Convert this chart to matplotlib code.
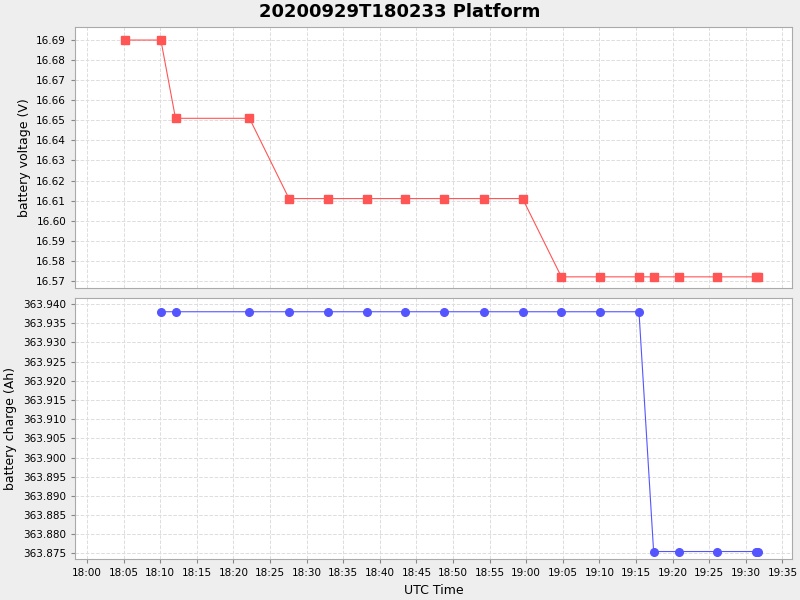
import matplotlib
matplotlib.use("Agg")
import matplotlib.pyplot as plt
import matplotlib.dates as mdates
from matplotlib.ticker import MultipleLocator, FormatStrFormatter
from datetime import datetime, timedelta

BASE = datetime(2020, 9, 29, 18, 0)

# minutes after 18:00
volt_min = [5.2, 10.1, 12.1, 22.2, 27.6, 32.9, 38.2, 43.5, 48.8, 54.2, 59.5,
            64.8, 70.1, 75.4, 77.4, 80.8, 86.1, 91.4, 91.7]
volt_val = [16.690, 16.690, 16.651, 16.651, 16.611, 16.611, 16.611, 16.611,
            16.611, 16.611, 16.611, 16.572, 16.572, 16.572, 16.572, 16.572,
            16.572, 16.572, 16.572]
chg_min = [10.1, 12.1, 22.2, 27.6, 32.9, 38.2, 43.5, 48.8, 54.2, 59.5, 64.8,
           70.1, 75.4, 77.4, 80.8, 86.1, 91.4, 91.7]
chg_val = [363.938] * 13 + [363.8755] * 5

BG = "#EEEEEE"
GRID = "#DDDDDD"

def t(m):
    return [BASE + timedelta(minutes=x) for x in m]

fig, (ax1, ax2) = plt.subplots(2, 1, figsize=(8, 6), dpi=100, sharex=True)
fig.patch.set_facecolor(BG)
fig.subplots_adjust(left=0.094, right=0.99, top=0.955, bottom=0.068, hspace=0.04)

ax1.plot(t(volt_min), volt_val, "-", color="#FF5555", lw=0.8,
         marker="s", ms=5.5)
ax1.set_ylim(16.5665, 16.6965)
ax1.yaxis.set_major_locator(MultipleLocator(0.01))
ax1.yaxis.set_major_formatter(FormatStrFormatter("%.2f"))
ax1.set_ylabel("battery voltage (V)", fontsize=9)

ax2.plot(t(chg_min), chg_val, "-", color="#5555FF", lw=0.8,
         marker="o", ms=5.5)
ax2.set_ylim(363.8735, 363.9415)
ax2.yaxis.set_major_locator(MultipleLocator(0.005))
ax2.yaxis.set_major_formatter(FormatStrFormatter("%.3f"))
ax2.set_ylabel("battery charge (Ah)", fontsize=9)

ax2.set_xlim(BASE - timedelta(minutes=1.6), BASE + timedelta(minutes=96.3))
ax2.xaxis.set_major_locator(mdates.MinuteLocator(byminute=range(0, 60, 5)))
ax2.xaxis.set_major_formatter(mdates.DateFormatter("%H:%M"))
ax2.set_xlabel("UTC Time", fontsize=9)

for ax in (ax1, ax2):
    ax.set_facecolor("white")
    ax.grid(True, color=GRID, ls="--", lw=0.7)
    ax.tick_params(labelsize=7.5, color="#888888", length=3)
    for s in ax.spines.values():
        s.set_color("#AAAAAA")
ax1.tick_params(axis="x", length=0)

fig.suptitle("20200929T180233 Platform", fontsize=13, fontweight="bold", y=0.995)
fig.savefig("out.png", facecolor=BG)
